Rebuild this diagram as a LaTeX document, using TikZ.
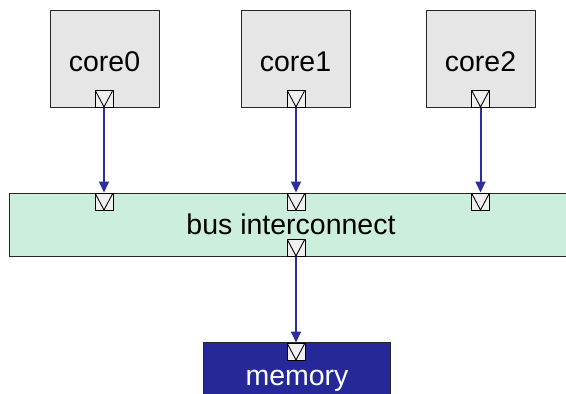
\documentclass[tikz,border=0pt]{standalone}
\usepackage{fontspec}
\setmainfont{Liberation Sans}
\usetikzlibrary{arrows.meta}
\definecolor{corefill}{HTML}{E6E6E6}
\definecolor{portfill}{HTML}{EFEFEF}
\definecolor{busfill}{HTML}{CCEEDD}
\definecolor{memfill}{HTML}{26289A}
\definecolor{wire}{HTML}{2E2EA0}
\tikzset{
  corebox/.style={draw=black!85, line width=1pt, fill=corefill, minimum width=109pt, minimum height=97pt, inner sep=0pt},
  port/.style={draw=black, line width=1pt, fill=portfill, minimum width=18pt, minimum height=17pt, inner sep=0pt,
    path picture={\draw[line width=0.9pt] (path picture bounding box.north west) -- (path picture bounding box.south) -- (path picture bounding box.north east);}},
  lbl/.style={font=\fontsize{28.5}{34}\selectfont, anchor=base, inner sep=0pt},
  wirearrow/.style={draw=wire, line width=2pt, -{Triangle[length=11pt,width=10pt]}},
  edge/.style={draw=black!85, line width=1pt}
}
\begin{document}
\begin{tikzpicture}[x=1pt,y=-1pt]
\useasboundingbox (0,0) rectangle (566,394);
\clip (0,0) rectangle (566,394);
\fill[white] (0,0) rectangle (566,394);
% cores
\node[corebox] (c0) at (104.5,58.5) {};
\node[corebox] (c1) at (295.5,58.5) {};
\node[corebox] (c2) at (480.5,58.5) {};
\node[lbl] (t0) at (104.5,71) {core0};
\node[lbl] (t1) at (295.5,71) {core1};
\node[lbl] (t2) at (480.5,71) {core2};
% bus (runs off the right edge)
\node[fill=busfill, minimum width=570pt, minimum height=63pt, inner sep=0pt] (bus) at (295,225) {};
\draw[edge] (bus.north east) -- (bus.north west) -- (bus.south west) -- (bus.south east);
\node[lbl] (bt) at (291,234) {bus interconnect};
% memory (runs off the bottom edge)
\node[fill=memfill, minimum width=186pt, minimum height=60pt, inner sep=0pt] (mem) at (297,373) {};
\draw[edge] (mem.south west) -- (mem.north west) -- (mem.north east) -- (mem.south east);
\node[lbl, text=white] (mt) at (297,385) {memory};
% ports
\node[port] (p0) at (104,98.5) {};
\node[port] (p1) at (296,98.5) {};
\node[port] (p2) at (480.5,98.5) {};
\node[port] (b0) at (104,201.5) {};
\node[port] (b1) at (296,201.5) {};
\node[port] (b2) at (480.5,201.5) {};
\node[port] (bo) at (296,247.5) {};
\node[port] (mi) at (296,351.5) {};
% wires
\draw[wirearrow] (p0.south) -- (b0.north);
\draw[wirearrow] (p1.south) -- (b1.north);
\draw[wirearrow] (p2.south) -- (b2.north);
\draw[wirearrow] (bo.south) -- (mi.north);
\end{tikzpicture}
\end{document}
